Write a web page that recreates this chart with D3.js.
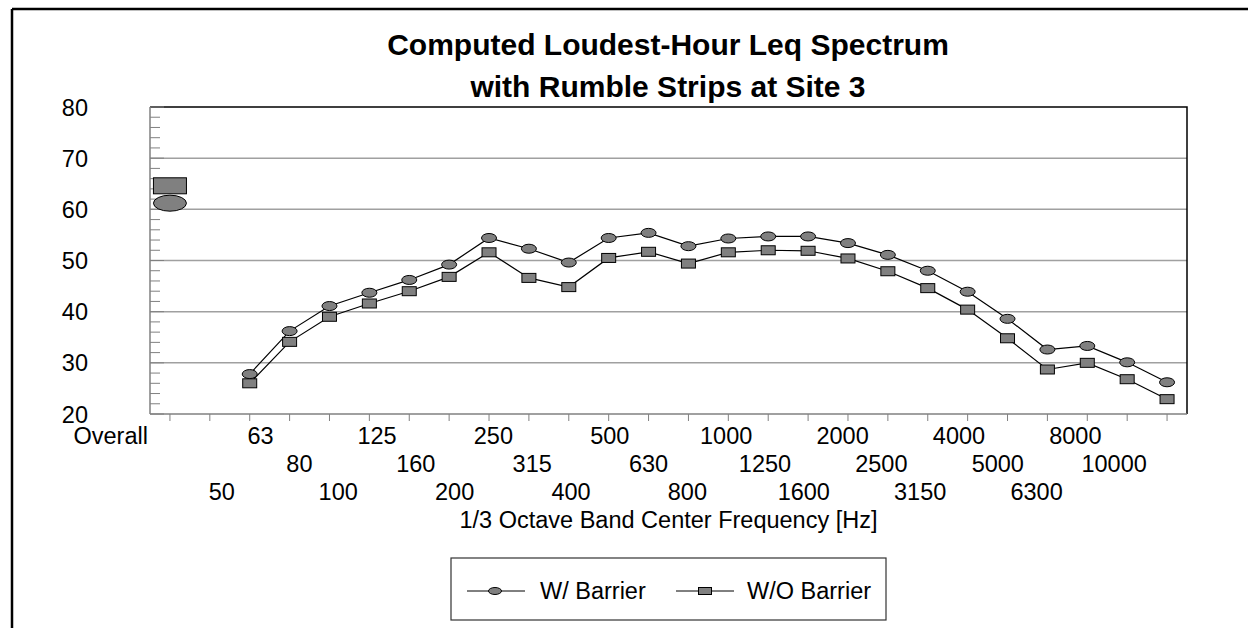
<!DOCTYPE html>
<html>
<head>
<meta charset="utf-8">
<script src="https://cdn.jsdelivr.net/npm/d3@7"></script>
<style>
  body { margin: 0; background: #fff; }
  svg text { font-family: Arial, "Liberation Sans", sans-serif; fill: #000; }
</style>
</head>
<body>
<svg id="chart" width="1248" height="628"></svg>
<script>
// categories on the x axis (Overall + 1/3 octave bands)
const bands = ["Overall", "50", "63", "80", "100", "125", "160", "200", "250", "315", "400",
  "500", "630", "800", "1000", "1250", "1600", "2000", "2500", "3150", "4000",
  "5000", "6300", "8000", "10000", "12500"]
// tick labels as printed (last band has no label)
const tickLabels = ["Overall", "50", "63", "80", "100", "125", "160", "200", "250", "315", "400",
  "500", "630", "800", "1000", "1250", "1600", "2000", "2500", "3150", "4000",
  "5000", "6300", "8000", "10000", ""]

// bands that carry spectrum data (63 Hz .. 12500 Hz)
const specBands = bands.slice(2)
const withBarrier = [27.8, 36.2, 41.1, 43.7, 46.2, 49.2, 54.4, 52.3, 49.6, 54.4, 55.4, 52.8,
  54.3, 54.7, 54.7, 53.4, 51.1, 48.0, 43.9, 38.6, 32.6, 33.3, 30.1, 26.2]
const withoutBarrier = [26.0, 34.1, 39.0, 41.6, 44.0, 46.8, 51.6, 46.6, 44.8, 50.5, 51.7, 49.4,
  51.6, 52.0, 51.9, 50.4, 47.9, 44.6, 40.4, 34.8, 28.7, 30.0, 26.8, 22.9]
const overallWith = 61.2
const overallWithout = 64.6

const yTicks = [20, 30, 40, 50, 60, 70, 80]

const svg = d3.select("#chart")
const plot = { left: 150, right: 1187, top: 107, bottom: 414 }

const x = d3.scalePoint().domain(bands).range([plot.left, plot.right]).padding(0.5)
const y = d3.scaleLinear().domain([20, 80]).range([plot.bottom, plot.top])

// outer frame (only top and left visible)
svg.append("line").attr("x1", 12).attr("x2", 1248).attr("y1", 9).attr("y2", 9)
  .attr("stroke", "#000").attr("stroke-width", 2.5)
svg.append("line").attr("x1", 12).attr("x2", 12).attr("y1", 9).attr("y2", 628)
  .attr("stroke", "#000").attr("stroke-width", 2.5)

// title
svg.append("text").attr("x", 668).attr("y", 55).attr("text-anchor", "middle")
  .attr("font-size", "30px").attr("font-weight", "bold")
  .text("Computed Loudest-Hour Leq Spectrum")
svg.append("text").attr("x", 668).attr("y", 97).attr("text-anchor", "middle")
  .attr("font-size", "30px").attr("font-weight", "bold")
  .text("with Rumble Strips at Site 3")

// grid lines
svg.append("g").selectAll("line")
  .data(yTicks.filter(d => d > 20 && d < 80))
  .join("line")
  .attr("x1", plot.left).attr("x2", plot.right)
  .attr("y1", d => y(d)).attr("y2", d => y(d))
  .attr("stroke", "#a0a0a0").attr("stroke-width", 1.5)

// plot frame top + right (black)
svg.append("path")
  .attr("d", `M${plot.left},${plot.top}H${plot.right}V${plot.bottom}`)
  .attr("fill", "none").attr("stroke", "#000").attr("stroke-width", 1.5)

// y axis: minor ticks every 2, inside
const yAxis = svg.append("g").attr("transform", `translate(${plot.left},0)`)
yAxis.append("line").attr("x1", 0).attr("x2", 0).attr("y1", plot.top).attr("y2", plot.bottom)
  .attr("stroke", "#808080").attr("stroke-width", 1.5)
yAxis.selectAll(".minor")
  .data(d3.range(20, 81, 2))
  .join("line")
  .attr("x1", 0).attr("x2", d => d % 10 === 0 ? 14 : 10)
  .attr("y1", d => y(d)).attr("y2", d => y(d))
  .attr("stroke", "#808080").attr("stroke-width", 1)
svg.append("g").selectAll("text")
  .data(yTicks)
  .join("text")
  .attr("x", 88).attr("y", d => y(d) + 8.5)
  .attr("text-anchor", "end").attr("font-size", "23.5px")
  .text(d => d)

// x axis
const xAxis = svg.append("g")
xAxis.append("line").attr("x1", plot.left).attr("x2", plot.right)
  .attr("y1", plot.bottom).attr("y2", plot.bottom)
  .attr("stroke", "#808080").attr("stroke-width", 1.5)
xAxis.selectAll(".tick")
  .data(bands)
  .join("line")
  .attr("x1", d => x(d)).attr("x2", d => x(d))
  .attr("y1", plot.bottom).attr("y2", plot.bottom + 7)
  .attr("stroke", "#808080").attr("stroke-width", 1)

// staggered labels (three rows)
const labelX = d3.scaleLinear().domain([1, bands.length - 2])
  .range([x(bands[1]) + 12, x(bands[bands.length - 2]) - 13])
const rowY = [444, 472, 500]
svg.append("g").selectAll("text")
  .data(tickLabels.map((t, i) => ({ t, i })).filter(d => d.t !== ""))
  .join("text")
  .attr("x", d => d.i === 0 ? x(bands[0]) - 22 : labelX(d.i))
  .attr("y", d => rowY[d.i === 0 ? 0 : (d.i + 1) % 3])
  .attr("text-anchor", d => d.i === 0 ? "end" : "middle")
  .attr("font-size", "23.5px")
  .text(d => d.t)

svg.append("text").attr("x", (plot.left + plot.right) / 2).attr("y", 528)
  .attr("text-anchor", "middle").attr("font-size", "23.5px")
  .text("1/3 Octave Band Center Frequency [Hz]")

// series lines
const line = d3.line().x(d => x(d.band)).y(d => y(d.v))
const wData = specBands.map((b, i) => ({ band: b, v: withBarrier[i] }))
const woData = specBands.map((b, i) => ({ band: b, v: withoutBarrier[i] }))

svg.append("path").datum(wData).attr("d", line)
  .attr("fill", "none").attr("stroke", "#000").attr("stroke-width", 1.2)
svg.append("path").datum(woData).attr("d", line)
  .attr("fill", "none").attr("stroke", "#000").attr("stroke-width", 1.2)

svg.append("g").selectAll("ellipse")
  .data(wData)
  .join("ellipse")
  .attr("cx", d => x(d.band)).attr("cy", d => y(d.v))
  .attr("rx", 7.5).attr("ry", 4.5)
  .attr("fill", "#808080").attr("stroke", "#000").attr("stroke-width", 1)
svg.append("g").selectAll("rect")
  .data(woData)
  .join("rect")
  .attr("x", d => x(d.band) - 7).attr("y", d => y(d.v) - 4.5)
  .attr("width", 14).attr("height", 9)
  .attr("fill", "#808080").attr("stroke", "#000").attr("stroke-width", 1)

// overall markers (larger)
svg.append("rect")
  .attr("x", x("Overall") - 16.5).attr("y", y(overallWithout) - 8)
  .attr("width", 33).attr("height", 16)
  .attr("fill", "#808080").attr("stroke", "#000").attr("stroke-width", 1)
svg.append("ellipse")
  .attr("cx", x("Overall")).attr("cy", y(overallWith))
  .attr("rx", 16.5).attr("ry", 8)
  .attr("fill", "#808080").attr("stroke", "#000").attr("stroke-width", 1)

// legend
const legend = svg.append("g")
legend.append("rect").attr("x", 451).attr("y", 558).attr("width", 435).attr("height", 62)
  .attr("fill", "#fff").attr("stroke", "#333").attr("stroke-width", 1.2)
legend.append("line").attr("x1", 467).attr("x2", 525).attr("y1", 591).attr("y2", 591)
  .attr("stroke", "#000")
legend.append("ellipse").attr("cx", 495).attr("cy", 591).attr("rx", 6.5).attr("ry", 3.5)
  .attr("fill", "#808080").attr("stroke", "#000")
legend.append("text").attr("x", 540).attr("y", 599).attr("font-size", "23.5px").text("W/ Barrier")
legend.append("line").attr("x1", 676).attr("x2", 734).attr("y1", 591).attr("y2", 591)
  .attr("stroke", "#000")
legend.append("rect").attr("x", 698.5).attr("y", 587.5).attr("width", 13).attr("height", 7)
  .attr("fill", "#808080").attr("stroke", "#000")
legend.append("text").attr("x", 747).attr("y", 599).attr("font-size", "23.5px").text("W/O Barrier")
</script>
</body>
</html>
